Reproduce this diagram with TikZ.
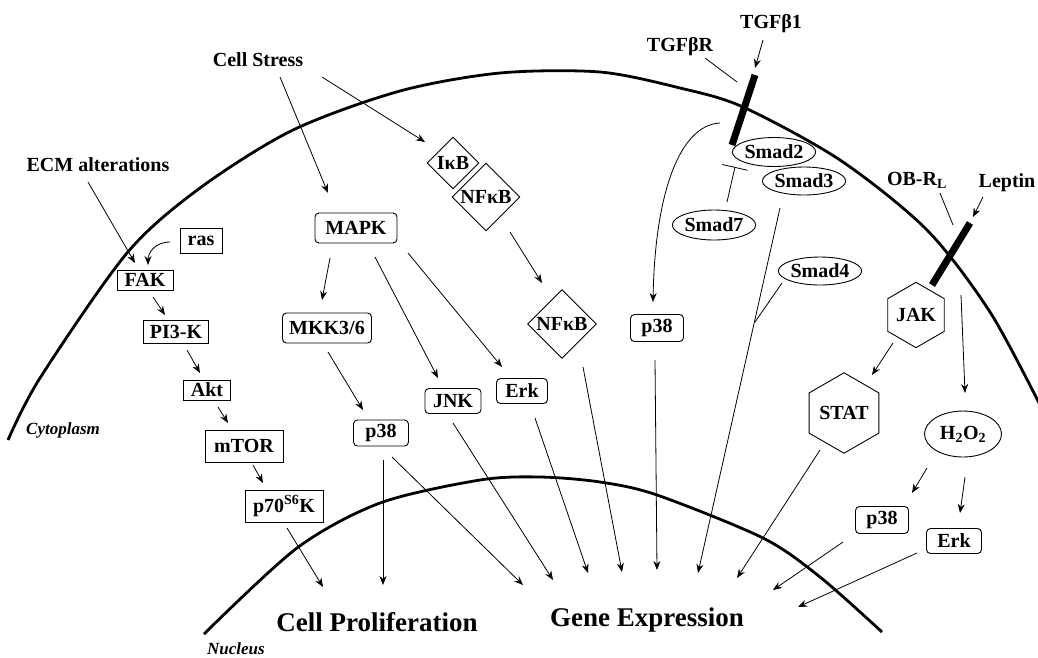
\documentclass[tikz,border=0pt]{standalone}
\usepackage{fontspec}
\setmainfont{Liberation Serif}
\usetikzlibrary{arrows.meta,shapes.geometric}
\begin{document}
\begin{tikzpicture}[x=1pt,y=-1pt,
  lbl/.style={font=\fontsize{20}{22}\selectfont\bfseries, inner sep=0pt},
  big/.style={font=\fontsize{27}{30}\selectfont\bfseries, inner sep=0pt},
  ital/.style={font=\fontsize{17}{19}\selectfont\bfseries\itshape, inner sep=0pt},
  sq/.style={lbl, draw, fill=white, line width=0.9pt},
  rnd/.style={sq, rounded corners=4pt},
  ell/.style={lbl, draw, fill=white, ellipse, line width=0.9pt},
  hex/.style={lbl, draw, fill=white, regular polygon, regular polygon sides=6, shape border rotate=30, line width=0.9pt},
  dia/.style={lbl, draw, fill=white, diamond, aspect=1, line width=0.9pt},
  arr/.style={-{Stealth[length=9pt,width=7pt]}, line width=0.8pt},
  ln/.style={line width=0.8pt},
  mem/.style={line width=2.8pt},
  rbar/.style={line width=7pt}]
\useasboundingbox (0,0) rectangle (1038,657);
\fill[white] (0,0) rectangle (1038,657);

% membranes
\draw[mem] plot[smooth] coordinates {(8,440) (40,378) (127,253) (200,188) (293,130) (400,91) (500,73) (600,72) (680,88) (743,107) (840,160) (927,230) (990,312) (1040,405)};
\draw[mem] plot[smooth] coordinates {(204,634) (297,548) (380,503) (480,480) (540,477) (600,482) (657,495) (763,538) (820,577) (882,632)};

% free text
\node[lbl] (CS) at (258,60) {Cell Stress};
\node[lbl] (ECM) at (98,165) {ECM alterations};
\node[lbl] (TGFR) at (680,47) {TGFβR};
\node[lbl] (TGF1) at (771,24) {TGFβ1};
\node[lbl] (OBR) at (917,180) {OB-R\textsubscript{L}};
\node[lbl] (LEP) at (1007,183) {Leptin};
\node[ital] (CYT) at (63,430) {Cytoplasm};
\node[ital] (NUC) at (236,649) {Nucleus};
\node[big] (CP) at (377,622) {Cell Proliferation};
\node[big] (GE) at (647,620) {Gene Expression};

% receptors
\coordinate (tgfTop) at (755,75);
\coordinate (tgfBot) at (732,145);
\coordinate (lepTop) at (970,223);
\coordinate (lepBot) at (932,285);
\draw[rbar] (tgfTop) -- (tgfBot);
\draw[rbar] (lepTop) -- (lepBot);

% arrow targets
\coordinate (cp1) at (323,587);
\coordinate (cp2) at (383,585);
\coordinate (ge1) at (523,585);
\coordinate (ge2) at (553,580);
\coordinate (ge3) at (588,573);
\coordinate (ge4) at (622,572);
\coordinate (ge5) at (657,570);
\coordinate (ge6) at (698,573);
\coordinate (ge7) at (737,578);
\coordinate (ge8) at (773,590);
\coordinate (ge9) at (798,607);
\coordinate (jn) at (755,322);

% nodes
\node[sq, minimum width=42, minimum height=25] (ras) at (201,241) {ras};
\node[sq, minimum width=56, minimum height=20] (FAK) at (145,280) {FAK};
\node[sq, minimum width=65, minimum height=23] (PI3K) at (176,332) {PI3-K};
\node[sq, minimum width=47, minimum height=20] (Akt) at (207,390) {Akt};
\node[sq, minimum width=78, minimum height=32] (mTOR) at (244,446) {mTOR};
\node[sq, minimum width=78, minimum height=32] (p70) at (284,506) {p70\textsuperscript{S6}K};
\node[rnd, minimum width=82, minimum height=30] (MAPK) at (356,228) {MAPK};
\node[rnd, minimum width=89, minimum height=30] (MKK) at (327,328) {MKK3/6};
\node[rnd, minimum width=55, minimum height=26] (p38a) at (381,433) {p38};
\node[rnd, minimum width=56, minimum height=25] (JNK) at (453,401) {JNK};
\node[rnd, minimum width=51, minimum height=25] (Erk) at (522,391) {Erk};
\node[dia, minimum width=52, minimum height=52] (IkB) at (453,163) {IκB};
\node[dia, minimum width=68, minimum height=68] (NFkB1) at (486,197) {NFκB};
\node[dia, minimum width=69, minimum height=69] (NFkB2) at (562,324) {NFκB};
\node[rnd, minimum width=53, minimum height=27] (p38b) at (657,328) {p38};
\node[ell, minimum width=78, minimum height=29] (S2) at (774,152) {Smad2};
\node[ell, minimum width=82, minimum height=28] (S3) at (804,181) {Smad3};
\node[ell, minimum width=72, minimum height=30] (S7) at (714,225) {Smad7};
\node[ell, minimum width=80, minimum height=28] (S4) at (820,271) {Smad4};
\node[hex, minimum size=56] (JAK) at (916,315) {JAK};
\node[hex, minimum size=70] (STAT) at (844,413) {STAT};
\node[ell, minimum width=77, minimum height=46] (H2O2) at (963,434) {H\textsubscript{2}O\textsubscript{2}};
\node[rnd, minimum width=53, minimum height=27] (p38c) at (882,520) {p38};
\node[rnd, minimum width=55, minimum height=25] (Erk2) at (954,541) {Erk};

% connectors: left pathway
\draw[arr] ([shift={(-10,17)}]ECM.center) -- ([shift={(-10,-17)}]FAK.center);
\draw[arr] ([shift={(-31,1)}]ras.center) .. controls +(-15,0) and +(0,-12) .. ([shift={(3,-15)}]FAK.center);
\draw[arr] ([shift={(8,17)}]FAK.center) -- ([shift={(-11,-17)}]PI3K.center);
\draw[arr] ([shift={(11,18)}]PI3K.center) -- ([shift={(-7,-17)}]Akt.center);
\draw[arr] ([shift={(11,17)}]Akt.center) -- ([shift={(-16,-23)}]mTOR.center);
\draw[arr] ([shift={(9,19)}]mTOR.center) -- ([shift={(-21,-23)}]p70.center);
\draw[arr] ([shift={(3,22)}]p70.center) -- (cp1);

% MAPK pathway
\draw[arr] ([shift={(22,17)}]CS.center) -- ([shift={(-28,-35)}]MAPK.center);
\draw[arr] ([shift={(64,17)}]CS.center) -- ([shift={(-28,-21)}]IkB.center);
\draw[arr] ([shift={(-26,30)}]MAPK.center) -- ([shift={(-5,-28)}]MKK.center);
\draw[arr] ([shift={(19,29)}]MAPK.center) -- ([shift={(-15,-23)}]JNK.center);
\draw[arr] ([shift={(52,25)}]MAPK.center) -- ([shift={(-20,-24)}]Erk.center);
\draw[arr] ([shift={(1,24)}]MKK.center) -- ([shift={(-18,-23)}]p38a.center);
\draw[arr] ([shift={(2,27)}]p38a.center) -- (cp2);
\draw[arr] ([shift={(11,24)}]p38a.center) -- (ge1);
\draw[arr] ([shift={(0,22)}]JNK.center) -- (ge2);
\draw[arr] ([shift={(13,27)}]Erk.center) -- (ge3);

% NFkB
\draw[arr] ([shift={(24,35)}]NFkB1.center) -- ([shift={(-20,-41)}]NFkB2.center);
\draw[arr] ([shift={(21,43)}]NFkB2.center) -- (ge4);

% TGF beta
\draw[arr] ([shift={(-8,16)}]TGF1.center) -- ([shift={(0,-7)}]tgfTop);
\draw[ln] ([shift={(25,11)}]TGFR.center) -- ([shift={(-18,7)}]tgfTop);
\draw[arr] ([shift={(-12,-22)}]tgfBot) .. controls +(-40,2) and +(2,-110) .. ([shift={(-4,-26)}]p38b.center);
\draw[arr] ([shift={(-2,32)}]p38b.center) -- (ge5);
\draw[ln, -{Bar[width=26pt]}] ([shift={(13,-23)}]S7.center) -- ([shift={(-39,15)}]S2.center);
\draw[arr] ([shift={(-24,27)}]S3.center) -- (ge6);
\draw[ln] ([shift={(-38,12)}]S4.center) -- (jn);

% Leptin
\draw[arr] ([shift={(-24,14)}]LEP.center) -- ([shift={(3,-6)}]lepTop);
\draw[ln] ([shift={(23,13)}]OBR.center) -- ([shift={(-17,2)}]lepTop);
\draw[arr] ([shift={(-23,28)}]JAK.center) -- ([shift={(28,-38)}]STAT.center);
\draw[arr] ([shift={(29,10)}]lepBot) -- ([shift={(2,-41)}]H2O2.center);
\draw[arr] ([shift={(-36,34)}]H2O2.center) -- ([shift={(30,-27)}]p38c.center);
\draw[arr] ([shift={(2,43)}]H2O2.center) -- ([shift={(6,-28)}]Erk2.center);
\draw[arr] ([shift={(-24,37)}]STAT.center) -- (ge7);
\draw[arr] ([shift={(-39,22)}]p38c.center) -- (ge8);
\draw[arr] ([shift={(-37,12)}]Erk2.center) -- (ge9);
\end{tikzpicture}
\end{document}
